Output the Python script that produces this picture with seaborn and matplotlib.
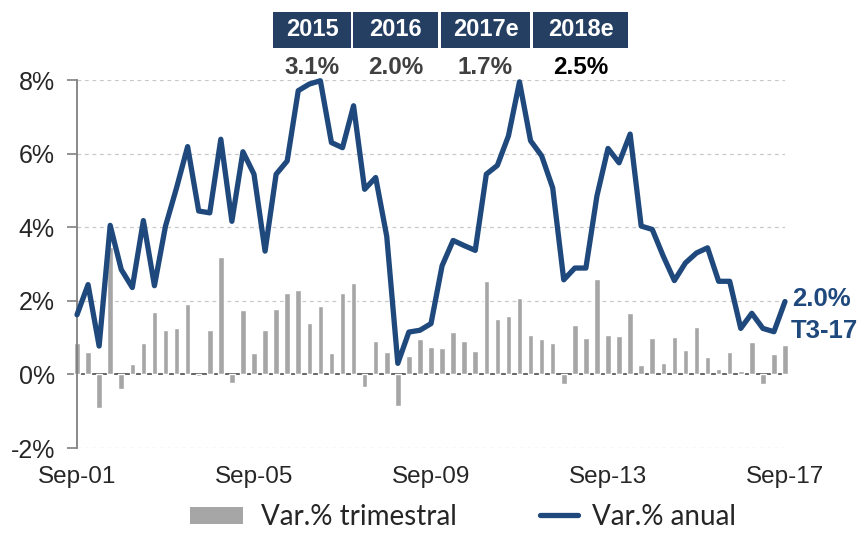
import numpy as np
import pandas as pd
import matplotlib
matplotlib.use("Agg")
import matplotlib.pyplot as plt
from matplotlib.patches import Rectangle, Patch
from matplotlib.lines import Line2D
import seaborn as sns

# Datos: variación trimestral (barras) y anual (línea), Sep-01 .. Sep-17
var_trimestral = [0.84, 0.62, -0.90, 3.45, -0.39, 0.28, 0.84, 1.70, 1.21, 1.27,
                  1.91, -0.05, 1.21, 3.20, -0.23, 1.76, 0.59, 1.21, 1.78, 2.21,
                  2.28, 1.41, 1.86, 0.59, 2.21, 2.48, -0.33, 0.92, 0.61, -0.86,
                  0.49, 0.97, 0.75, 0.72, 1.16, 0.91, 0.63, 2.55, 1.50, 1.60,
                  2.07, 1.07, 0.95, 0.85, -0.25, 1.34, 0.98, 2.59, 1.07, 1.03,
                  1.67, 0.25, 0.99, 0.32, 1.02, 0.65, 1.28, 0.48, 0.14, 0.61,
                  0.09, 0.88, -0.27, 0.56, 0.81]
var_anual = [1.62, 2.44, 0.77, 4.05, 2.85, 2.36, 4.18, 2.41, 4.03, 5.07,
             6.19, 4.44, 4.39, 6.39, 4.16, 6.05, 5.44, 3.35, 5.44, 5.80,
             7.71, 7.89, 7.98, 6.30, 6.16, 7.30, 5.03, 5.35, 3.75, 0.30,
             1.15, 1.20, 1.38, 2.95, 3.64, 3.50, 3.37, 5.44, 5.68, 6.48,
             7.95, 6.35, 5.94, 5.07, 2.57, 2.89, 2.89, 4.85, 6.14, 5.75,
             6.53, 4.03, 3.94, 3.21, 2.55, 3.03, 3.30, 3.44, 2.53, 2.53,
             1.25, 1.66, 1.25, 1.16, 1.98]
tick_labels = ["Sep-01", "Sep-05", "Sep-09", "Sep-13", "Sep-17"]
y_ticks = [-2, 0, 2, 4, 6, 8]

header_years = ["2015", "2016", "2017e", "2018e"]
header_values = ["3.1%", "2.0%", "1.7%", "2.5%"]
last_label = ["2.0%", "T3-17"]

df = pd.DataFrame({"idx": np.arange(len(var_anual)),
                   "trimestral": var_trimestral,
                   "anual": var_anual})

BLUE = "#1F497D"
GRAY = "#A6A6A6"
NAVY = "#243F62"

sns.set_style("white")
plt.rcParams["font.family"] = ["Liberation Sans", "DejaVu Sans"]

W, H = 866, 534
fig = plt.figure(figsize=(W / 100, H / 100), dpi=100)
ax = fig.add_axes([77 / W, 1 - 448 / H, (785 - 77) / W, (448 - 80) / H])

sns.barplot(data=df, x="idx", y="trimestral", color=GRAY, width=0.5,
            saturation=1, ax=ax, zorder=2)
for p in ax.patches:
    p.set_clip_on(False)
sns.lineplot(data=df, x="idx", y="anual", color=BLUE, linewidth=3.8, ax=ax,
             zorder=3)
for ln in ax.lines:
    ln.set_solid_joinstyle("round")
    ln.set_solid_capstyle("round")
    ln.set_clip_on(False)

ax.set_xlim(0, len(var_anual) - 1)
ax.set_ylim(-2, 8)
ax.set_yticks(y_ticks)
ax.set_yticklabels([f"{v}%" for v in y_ticks], fontsize=18)
for v in [-2, 2, 4, 6, 8]:
    ax.axhline(v, color="#C8C8C8", lw=0.9, ls=(0, (3, 3)), zorder=0)

ax.set_xlabel("")
ax.set_ylabel("")
for s in ["top", "right"]:
    ax.spines[s].set_visible(False)
ax.spines["left"].set_color("#808080")
ax.spines["left"].set_linewidth(1.3)
ax.spines["bottom"].set_position(("data", 0))
ax.spines["bottom"].set_color("#595959")
ax.spines["bottom"].set_linewidth(1.3)
ax.spines["bottom"].set_zorder(1)

xt = np.arange(0, len(var_anual), 16)
ax.set_xticks(xt)
ax.tick_params(axis="x", direction="out", length=6, width=1.2,
               color="#595959", labelbottom=False)
ax.tick_params(axis="y", direction="out", length=7, width=1.2,
               color="#808080", pad=9, left=True)

sec = ax.secondary_xaxis("bottom")
sec.set_xticks(xt)
sec.set_xticklabels(tick_labels, fontsize=17.5)
sec.tick_params(length=0, pad=13)
sec.spines["bottom"].set_visible(False)

# Etiqueta del último dato
ax.annotate(last_label[0], xy=(len(var_anual) - 1, var_anual[-1]),
            xytext=(5, 2), textcoords="offset points", ha="left", va="center",
            fontsize=18.5, fontweight="bold", color=BLUE, annotation_clip=False)
ax.annotate(last_label[1], xy=(len(var_anual) - 1, var_anual[-1]),
            xytext=(4, -21), textcoords="offset points", ha="left",
            va="center", fontsize=18.5, fontweight="bold", color=BLUE,
            annotation_clip=False)

# Cabecera con previsiones anuales
boxes = [(273, 351), (353, 438), (441, 530), (533, 628)]
for (x0, x1), yr, val in zip(boxes, header_years, header_values):
    fig.add_artist(Rectangle((x0 / W, 1 - 48 / H), (x1 - x0) / W, 36 / H,
                             transform=fig.transFigure, facecolor=NAVY,
                             edgecolor="none"))
    xc = (x0 + x1) / 2 / W
    fig.text(xc, 1 - 30 / H, yr, ha="center", va="center", color="white",
             fontsize=17, fontweight="bold")
    fig.text(xc, 1 - 68 / H, val, ha="center", va="center",
             color="black" if val == header_values[-1] else "#404040",
             fontsize=17.5, fontweight="bold")

# Leyenda inferior
leg_font = {"family": "Lato", "size": 20}
leg1 = fig.legend(handles=[Patch(facecolor=GRAY, edgecolor="none",
                                 label="Var.% trimestral")],
                  loc="center left", bbox_to_anchor=(190 / W, 1 - 517 / H),
                  frameon=False, borderpad=0, borderaxespad=0,
                  handlelength=1.9, handleheight=0.55, handletextpad=0.65,
                  prop=leg_font)
fig.legend(handles=[Line2D([0], [0], color=BLUE, lw=3.8,
                           label="Var.% anual")],
           loc="center left", bbox_to_anchor=(540 / W, 1 - 517 / H),
           frameon=False, borderpad=0, borderaxespad=0,
           handlelength=1.37, handletextpad=0.5, prop=leg_font)

fig.savefig("out.png", dpi=100)
